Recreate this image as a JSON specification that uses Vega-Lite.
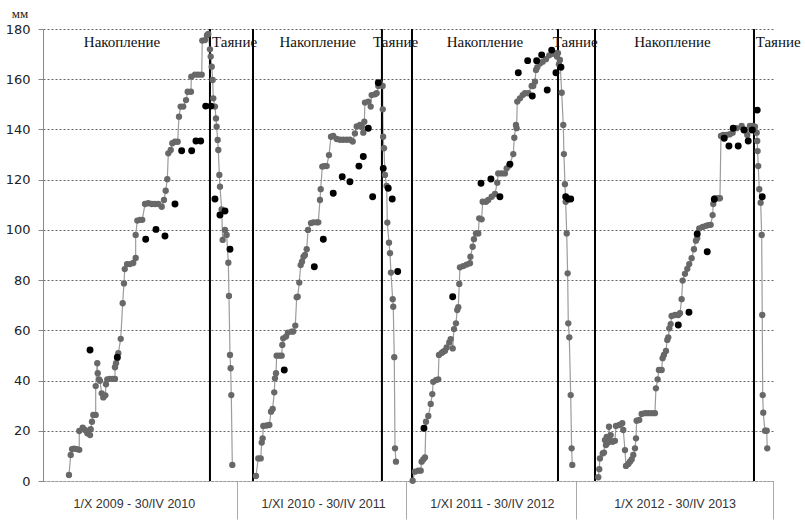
{
  "$schema": "https://vega.github.io/schema/vega-lite/v6.json",
  "width": 730,
  "height": 452,
  "autosize": {"type": "none"},
  "padding": {"left": 43, "top": 29, "right": 32, "bottom": 42},
  "background": "white",
  "config": {"view": {"stroke": null}},
  "datasets": {
    "model": [
      {"d":28,"mm":2.4,"s":1},{"d":29.9,"mm":10.4,"s":1},{"d":31.3,"mm":12.7,"s":1},{"d":33.4,"mm":12.9,"s":1},{"d":36.3,"mm":12.7,"s":1},{"d":39.1,"mm":12.4,"s":1},{"d":39.1,"mm":19.9,"s":1},{"d":42.8,"mm":21.2,"s":1},{"d":45.3,"mm":20.3,"s":1},{"d":47.8,"mm":19,"s":1},{"d":50.7,"mm":18.3,"s":1},{"d":51.4,"mm":20.6,"s":1},{"d":52.8,"mm":23.6,"s":1},{"d":54.2,"mm":26.3,"s":1},{"d":56.8,"mm":26.3,"s":1},{"d":56.8,"mm":37.8,"s":1},{"d":58.5,"mm":46.9,"s":1},{"d":59,"mm":42.9,"s":1},{"d":60.4,"mm":40.5,"s":1},{"d":61.4,"mm":39.9,"s":1},{"d":63.3,"mm":34.9,"s":1},{"d":65,"mm":33.3,"s":1},{"d":67.2,"mm":34.1,"s":1},{"d":67.9,"mm":38.5,"s":1},{"d":69.3,"mm":40.5,"s":1},{"d":72.2,"mm":40.7,"s":1},{"d":75.1,"mm":40.7,"s":1},{"d":77.6,"mm":40.7,"s":1},{"d":77.6,"mm":45.3,"s":1},{"d":78.7,"mm":46.9,"s":1},{"d":80.1,"mm":48.9,"s":1},{"d":81.2,"mm":50.9,"s":1},{"d":83.8,"mm":56.6,"s":1},{"d":85.9,"mm":70.8,"s":1},{"d":87.3,"mm":78.7,"s":1},{"d":88.1,"mm":84.4,"s":1},{"d":90.6,"mm":86.4,"s":1},{"d":93.8,"mm":86.4,"s":1},{"d":97.3,"mm":86.8,"s":1},{"d":99.9,"mm":88.8,"s":1},{"d":99.9,"mm":98,"s":1},{"d":101.7,"mm":103.7,"s":1},{"d":104.6,"mm":104,"s":1},{"d":107,"mm":104,"s":1},{"d":110,"mm":110.3,"s":1},{"d":113.5,"mm":110.6,"s":1},{"d":117.2,"mm":110.3,"s":1},{"d":120.7,"mm":110.3,"s":1},{"d":124.3,"mm":110.3,"s":1},{"d":128,"mm":109.2,"s":1},{"d":130.4,"mm":111.9,"s":1},{"d":132.3,"mm":115.6,"s":1},{"d":134,"mm":120.2,"s":1},{"d":135.1,"mm":130.5,"s":1},{"d":137.7,"mm":131.8,"s":1},{"d":139.4,"mm":134.5,"s":1},{"d":142.3,"mm":135.1,"s":1},{"d":145.2,"mm":135.1,"s":1},{"d":146.6,"mm":145.1,"s":1},{"d":148.4,"mm":149.1,"s":1},{"d":151.2,"mm":149.1,"s":1},{"d":154.2,"mm":151.7,"s":1},{"d":156,"mm":155,"s":1},{"d":159.5,"mm":155,"s":1},{"d":159.9,"mm":161,"s":1},{"d":163.9,"mm":161.8,"s":1},{"d":167.4,"mm":161.8,"s":1},{"d":171.1,"mm":161.8,"s":1},{"d":171.7,"mm":175.4,"s":1},{"d":174.6,"mm":175.6,"s":1},{"d":176.8,"mm":177.5,"s":1},{"d":178.2,"mm":178,"s":1},{"d":180,"mm":171.9,"s":1},{"d":180.8,"mm":169,"s":1},{"d":181.9,"mm":165,"s":1},{"d":182.9,"mm":159.7,"s":1},{"d":183.6,"mm":152.4,"s":1},{"d":185.4,"mm":149.1,"s":1},{"d":186.5,"mm":144.4,"s":1},{"d":187.2,"mm":141.1,"s":1},{"d":188.3,"mm":135.8,"s":1},{"d":189,"mm":131.8,"s":1},{"d":190.1,"mm":121.9,"s":1},{"d":190.8,"mm":117.2,"s":1},{"d":192.6,"mm":108.2,"s":1},{"d":193.7,"mm":96,"s":1},{"d":196.2,"mm":100,"s":1},{"d":198,"mm":98,"s":1},{"d":199.8,"mm":86.9,"s":1},{"d":200.5,"mm":73.7,"s":1},{"d":201.6,"mm":50.2,"s":1},{"d":202.3,"mm":44.9,"s":1},{"d":203,"mm":34.2,"s":1},{"d":204.1,"mm":6.4,"s":1},
      {"d":229.6,"mm":2,"s":2},{"d":232.1,"mm":9,"s":2},{"d":234.7,"mm":9,"s":2},{"d":235.8,"mm":15.3,"s":2},{"d":236.8,"mm":17,"s":2},{"d":237.5,"mm":21.9,"s":2},{"d":241.1,"mm":22.1,"s":2},{"d":244,"mm":22.3,"s":2},{"d":245.8,"mm":27.6,"s":2},{"d":247.6,"mm":28.7,"s":2},{"d":249.3,"mm":35.3,"s":2},{"d":250.1,"mm":40.9,"s":2},{"d":251.2,"mm":42.9,"s":2},{"d":251.9,"mm":49.9,"s":2},{"d":254.7,"mm":49.9,"s":2},{"d":257.3,"mm":49.9,"s":2},{"d":258,"mm":54.2,"s":2},{"d":259,"mm":56.8,"s":2},{"d":262,"mm":57.5,"s":2},{"d":264.1,"mm":59.1,"s":2},{"d":268.1,"mm":59.5,"s":2},{"d":269.8,"mm":59.5,"s":2},{"d":272,"mm":61.9,"s":2},{"d":273.5,"mm":73.2,"s":2},{"d":274.6,"mm":73.4,"s":2},{"d":276.3,"mm":79,"s":2},{"d":277.8,"mm":86,"s":2},{"d":279.2,"mm":87.3,"s":2},{"d":280.8,"mm":89.3,"s":2},{"d":282.4,"mm":90,"s":2},{"d":284.3,"mm":92.3,"s":2},{"d":285.7,"mm":100,"s":2},{"d":288.9,"mm":102.7,"s":2},{"d":291.4,"mm":103,"s":2},{"d":295,"mm":103,"s":2},{"d":296.8,"mm":103,"s":2},{"d":298.6,"mm":111.9,"s":2},{"d":299.4,"mm":116.2,"s":2},{"d":301.1,"mm":125.2,"s":2},{"d":303.2,"mm":125.4,"s":2},{"d":305.8,"mm":125.4,"s":2},{"d":308.3,"mm":129.8,"s":2},{"d":310.5,"mm":137.1,"s":2},{"d":312.9,"mm":137.4,"s":2},{"d":316.6,"mm":136.2,"s":2},{"d":320.2,"mm":135.9,"s":2},{"d":323.7,"mm":135.9,"s":2},{"d":327.4,"mm":135.9,"s":2},{"d":330.9,"mm":135.9,"s":2},{"d":333.9,"mm":135.2,"s":2},{"d":336.3,"mm":138.4,"s":2},{"d":338.2,"mm":141.2,"s":2},{"d":341.7,"mm":141.8,"s":2},{"d":343.6,"mm":141.1,"s":2},{"d":345.3,"mm":138.7,"s":2},{"d":346.4,"mm":143.1,"s":2},{"d":347.1,"mm":150.7,"s":2},{"d":350.7,"mm":151.1,"s":2},{"d":353.3,"mm":149.1,"s":2},{"d":354.3,"mm":153.7,"s":2},{"d":357.9,"mm":154,"s":2},{"d":359.7,"mm":154.4,"s":2},{"d":361.5,"mm":157.3,"s":2},{"d":363.3,"mm":158.4,"s":2},{"d":366.2,"mm":157.3,"s":2},{"d":366.3,"mm":148,"s":2},{"d":366.7,"mm":137.1,"s":2},{"d":367.6,"mm":132.5,"s":2},{"d":368.7,"mm":121.9,"s":2},{"d":370.5,"mm":117.5,"s":2},{"d":371.2,"mm":102.9,"s":2},{"d":373,"mm":94.9,"s":2},{"d":374.1,"mm":90.7,"s":2},{"d":375.1,"mm":83,"s":2},{"d":377,"mm":72.4,"s":2},{"d":377.6,"mm":69.4,"s":2},{"d":378.7,"mm":49.3,"s":2},{"d":379.5,"mm":13,"s":2},{"d":380.5,"mm":7.7,"s":2},
      {"d":398.5,"mm":0.1,"s":3},{"d":401,"mm":3.7,"s":3},{"d":404.6,"mm":4.1,"s":3},{"d":407.2,"mm":4.1,"s":3},{"d":408.2,"mm":7.7,"s":3},{"d":410,"mm":8.6,"s":3},{"d":411.8,"mm":9.4,"s":3},{"d":412.9,"mm":23.6,"s":3},{"d":415.4,"mm":25.9,"s":3},{"d":418,"mm":30.7,"s":3},{"d":419.7,"mm":34.6,"s":3},{"d":420.7,"mm":39.5,"s":3},{"d":423.7,"mm":40.2,"s":3},{"d":426.1,"mm":40.5,"s":3},{"d":426.9,"mm":50.2,"s":3},{"d":429.8,"mm":51,"s":3},{"d":431.5,"mm":51.5,"s":3},{"d":433.4,"mm":51.9,"s":3},{"d":435.2,"mm":53.2,"s":3},{"d":438,"mm":55.2,"s":3},{"d":439.5,"mm":56.5,"s":3},{"d":441.7,"mm":52.8,"s":3},{"d":443.1,"mm":60.5,"s":3},{"d":445.2,"mm":62.8,"s":3},{"d":446.6,"mm":68.1,"s":3},{"d":447.7,"mm":69.2,"s":3},{"d":448.8,"mm":78.5,"s":3},{"d":449.5,"mm":85.1,"s":3},{"d":453.1,"mm":85.6,"s":3},{"d":456.7,"mm":86.2,"s":3},{"d":460.3,"mm":86.7,"s":3},{"d":460.8,"mm":89.3,"s":3},{"d":463.2,"mm":93.3,"s":3},{"d":464.6,"mm":96.3,"s":3},{"d":466.8,"mm":98.6,"s":3},{"d":469.3,"mm":98.6,"s":3},{"d":470.3,"mm":104.6,"s":3},{"d":472.9,"mm":104.2,"s":3},{"d":474,"mm":111.2,"s":3},{"d":477.6,"mm":111.2,"s":3},{"d":480,"mm":111.9,"s":3},{"d":483.7,"mm":113.2,"s":3},{"d":487.3,"mm":114.3,"s":3},{"d":489.7,"mm":118.8,"s":3},{"d":490.8,"mm":122.5,"s":3},{"d":494.5,"mm":122.5,"s":3},{"d":498,"mm":122.5,"s":3},{"d":499.9,"mm":124.5,"s":3},{"d":502.7,"mm":125.6,"s":3},{"d":507,"mm":130.2,"s":3},{"d":508.1,"mm":136.7,"s":3},{"d":509.9,"mm":141.8,"s":3},{"d":510.6,"mm":140.5,"s":3},{"d":511.3,"mm":151.1,"s":3},{"d":514.2,"mm":152.4,"s":3},{"d":517.1,"mm":153.7,"s":3},{"d":519.6,"mm":154.4,"s":3},{"d":523.2,"mm":154.4,"s":3},{"d":526.8,"mm":157.3,"s":3},{"d":528.5,"mm":157.3,"s":3},{"d":530.4,"mm":159,"s":3},{"d":531.5,"mm":163.7,"s":3},{"d":532.9,"mm":164.8,"s":3},{"d":535.8,"mm":166.3,"s":3},{"d":538.7,"mm":167,"s":3},{"d":542.2,"mm":168,"s":3},{"d":545.8,"mm":169.5,"s":3},{"d":549.5,"mm":170.1,"s":3},{"d":553,"mm":170.4,"s":3},{"d":554.1,"mm":169,"s":3},{"d":555.2,"mm":170.4,"s":3},{"d":556.2,"mm":166,"s":3},{"d":557.3,"mm":167.7,"s":3},{"d":559.2,"mm":154.6,"s":3},{"d":560.9,"mm":141.8,"s":3},{"d":561.6,"mm":130.2,"s":3},{"d":562.7,"mm":118.2,"s":3},{"d":563.5,"mm":111.2,"s":3},{"d":564.6,"mm":98.6,"s":3},{"d":565.6,"mm":82.7,"s":3},{"d":566.3,"mm":62.8,"s":3},{"d":567.4,"mm":57.2,"s":3},{"d":568.9,"mm":34.2,"s":3},{"d":569.9,"mm":13,"s":3},{"d":570.6,"mm":6.4,"s":3},
      {"d":598.6,"mm":1.5,"s":4},{"d":599.7,"mm":4.7,"s":4},{"d":600.4,"mm":9,"s":4},{"d":603.4,"mm":11,"s":4},{"d":604.8,"mm":11.3,"s":4},{"d":605.8,"mm":16.3,"s":4},{"d":606.9,"mm":14.3,"s":4},{"d":607.7,"mm":17.6,"s":4},{"d":609.4,"mm":15.3,"s":4},{"d":610.2,"mm":21.6,"s":4},{"d":611.2,"mm":16.3,"s":4},{"d":612,"mm":18.3,"s":4},{"d":614.1,"mm":15.6,"s":4},{"d":616.6,"mm":16,"s":4},{"d":617.7,"mm":21.9,"s":4},{"d":621.3,"mm":22.3,"s":4},{"d":624.5,"mm":23,"s":4},{"d":625.6,"mm":20.3,"s":4},{"d":627.4,"mm":12.3,"s":4},{"d":628.5,"mm":6,"s":4},{"d":631,"mm":6.8,"s":4},{"d":632.8,"mm":7.7,"s":4},{"d":634.6,"mm":8.6,"s":4},{"d":636.4,"mm":10.4,"s":4},{"d":638.2,"mm":13,"s":4},{"d":639.3,"mm":17,"s":4},{"d":640,"mm":24,"s":4},{"d":642.8,"mm":24.3,"s":4},{"d":645.4,"mm":26.7,"s":4},{"d":649,"mm":27,"s":4},{"d":652.5,"mm":27,"s":4},{"d":656.2,"mm":27,"s":4},{"d":659.7,"mm":27,"s":4},{"d":660.8,"mm":36.9,"s":4},{"d":662.6,"mm":40.5,"s":4},{"d":664,"mm":44.2,"s":4},{"d":667,"mm":44.2,"s":4},{"d":668,"mm":48.9,"s":4},{"d":669.4,"mm":50.2,"s":4},{"d":671.6,"mm":51.8,"s":4},{"d":673,"mm":56.2,"s":4},{"d":674.1,"mm":57.2,"s":4},{"d":675.2,"mm":60.8,"s":4},{"d":676.7,"mm":62.5,"s":4},{"d":677.7,"mm":65.7,"s":4},{"d":681.3,"mm":66.1,"s":4},{"d":684.9,"mm":66.1,"s":4},{"d":686.7,"mm":66.8,"s":4},{"d":688.5,"mm":72.4,"s":4},{"d":689.6,"mm":79.8,"s":4},{"d":692.1,"mm":82.5,"s":4},{"d":694.6,"mm":84.5,"s":4},{"d":696.7,"mm":86.4,"s":4},{"d":699.3,"mm":88.7,"s":4},{"d":701.8,"mm":92.3,"s":4},{"d":703.9,"mm":95.7,"s":4},{"d":705.3,"mm":96.7,"s":4},{"d":707.5,"mm":100.6,"s":4},{"d":711.2,"mm":101.2,"s":4},{"d":714.7,"mm":101.6,"s":4},{"d":717.2,"mm":101.9,"s":4},{"d":719.8,"mm":102,"s":4},{"d":721.9,"mm":105.9,"s":4},{"d":722.6,"mm":110.3,"s":4},{"d":724.4,"mm":112.6,"s":4},{"d":728,"mm":112.6,"s":4},{"d":729.8,"mm":112.6,"s":4},{"d":730.9,"mm":137.4,"s":4},{"d":733.4,"mm":137.8,"s":4},{"d":737,"mm":137.8,"s":4},{"d":740.6,"mm":138.1,"s":4},{"d":743.5,"mm":138.7,"s":4},{"d":747.8,"mm":140.5,"s":4},{"d":753.2,"mm":141.4,"s":4},{"d":756.8,"mm":139.8,"s":4},{"d":759.3,"mm":137.8,"s":4},{"d":762.1,"mm":141.4,"s":4},{"d":765.1,"mm":141.4,"s":4},{"d":767.5,"mm":141.1,"s":4},{"d":769.4,"mm":138.7,"s":4},{"d":770,"mm":135.4,"s":4},{"d":770.4,"mm":131.4,"s":4},{"d":771.1,"mm":125.4,"s":4},{"d":772.2,"mm":116.2,"s":4},{"d":773.7,"mm":110.8,"s":4},{"d":774.8,"mm":98,"s":4},{"d":775.4,"mm":66.1,"s":4},{"d":775.9,"mm":34.2,"s":4},{"d":776.5,"mm":27.2,"s":4},{"d":778.3,"mm":20,"s":4},{"d":780.2,"mm":20,"s":4},{"d":780.8,"mm":13,"s":4}
    ],
    "obs": [
      {"d":50.7,"mm":52.2},{"d":80.1,"mm":49.3},{"d":110.7,"mm":96.3},{"d":121.8,"mm":100.2},{"d":131.5,"mm":97.6},{"d":142.3,"mm":110.3},{"d":149.5,"mm":131.5},{"d":160.3,"mm":131.5},{"d":164.9,"mm":135.4},{"d":170,"mm":135.4},{"d":175.4,"mm":149.3},{"d":181.1,"mm":149.3},{"d":185.4,"mm":112.3},{"d":190.8,"mm":105.9},{"d":196.2,"mm":107.5},{"d":201.6,"mm":92.3},
      {"d":260.1,"mm":44.2},{"d":292.5,"mm":85.3},{"d":302.2,"mm":96.3},{"d":312.9,"mm":114.6},{"d":322.6,"mm":121.2},{"d":330.9,"mm":119.2},{"d":340.6,"mm":125.4},{"d":345.3,"mm":129.2},{"d":350.7,"mm":140.5},{"d":355.4,"mm":113.2},{"d":361.5,"mm":158.6},{"d":366.8,"mm":124.5},{"d":372.2,"mm":116.6},{"d":376.5,"mm":112.3},{"d":382.4,"mm":83.4},
      {"d":410.7,"mm":21},{"d":441.7,"mm":73.4},{"d":472.2,"mm":118.6},{"d":482.9,"mm":120.3},{"d":492.6,"mm":113.2},{"d":503.4,"mm":126.2},{"d":512.4,"mm":162.6},{"d":522.5,"mm":167.4},{"d":527.5,"mm":153.3},{"d":532.2,"mm":167.4},{"d":537.6,"mm":169.7},{"d":543.6,"mm":155.7},{"d":548.4,"mm":171.6},{"d":553,"mm":162.6},{"d":558.4,"mm":164.8},{"d":563.5,"mm":113.2},{"d":566.3,"mm":112.3},{"d":568.9,"mm":112.3},
      {"d":684.9,"mm":62.1},{"d":696.4,"mm":67.2},{"d":705.3,"mm":98.4},{"d":716.1,"mm":91.3},{"d":723.7,"mm":112.2},{"d":734.4,"mm":136.5},{"d":739.5,"mm":133.4},{"d":744.1,"mm":140.5},{"d":749.5,"mm":133.4},{"d":755.7,"mm":139.8},{"d":760.3,"mm":135.4},{"d":764.6,"mm":139.8},{"d":770,"mm":147.7},{"d":775.4,"mm":113.2}
    ],
    "phases": [
      {"d":180.0},{"d":226.4},{"d":365.4},{"d":397.8},{"d":555.2},{"d":595.1},{"d":766.5}
    ],
    "labels": [
      {"d":85.2,"mm":175,"t":"Накопление","k":"acc"},
      {"d":296.1,"mm":175,"t":"Накопление","k":"acc"},
      {"d":476.5,"mm":175,"t":"Накопление","k":"acc"},
      {"d":678.6,"mm":175,"t":"Накопление","k":"acc"},
      {"d":182.2,"mm":175,"t":"Таяние","k":"melt"},
      {"d":355.8,"mm":175,"t":"Таяние","k":"melt"},
      {"d":549.5,"mm":175,"t":"Таяние","k":"melt"},
      {"d":768.3,"mm":175,"t":"Таяние","k":"melt"}
    ]
  },
  "layer": [
    {
      "data": {"name": "model"},
      "mark": {"type": "line", "color": "#9c9c9c", "strokeWidth": 1.2},
      "encoding": {
        "x": {
          "field": "d", "type": "quantitative",
          "scale": {"domain": [0, 787], "nice": false, "zero": false},
          "axis": {
            "values": [98, 209, 302, 391, 484, 575, 681, 787],
            "title": null,
            "grid": false,
            "domainColor": "#9a9a9a",
            "domainDash": [3, 1],
            "domainWidth": 1.2,
            "tickColor": "#aaaaaa",
            "tickSize": 38,
            "tickOpacity": {"condition": {"test": "datum.value == 209 || datum.value == 391 || datum.value == 575 || datum.value == 787", "value": 1}, "value": 0},
            "labelExpr": "datum.value == 98 ? '1/X 2009 - 30/IV 2010' : datum.value == 302 ? '1/XI 2010 - 30/IV 2011' : datum.value == 484 ? '1/XI 2011 - 30/IV 2012' : datum.value == 681 ? '1/X 2012 - 30/IV 2013' : ''",
            "labelPadding": -16,
            "labelBaseline": "middle",
            "labelFont": "Liberation Sans",
            "labelFontSize": 12.5,
            "labelColor": "#333333",
            "labelOverlap": false,
            "labelBound": false,
            "labelFlush": false
          }
        },
        "y": {
          "field": "mm", "type": "quantitative",
          "scale": {"domain": [0, 180], "nice": false},
          "axis": {
            "values": [0, 20, 40, 60, 80, 100, 120, 140, 160, 180],
            "title": "мм",
            "titleAngle": 0,
            "titleX": -23.5,
            "titleY": -15.5,
            "titleAlign": "center",
            "titleBaseline": "middle",
            "titleFont": "Liberation Serif",
            "titleFontSize": 13,
            "titleFontWeight": "normal",
            "titleColor": "#222222",
            "labelFont": "DejaVu Sans",
            "labelFontSize": 13,
            "labelColor": "#222222",
            "labelPadding": 8,
            "tickSize": 5,
            "tickColor": "#888888",
            "domainColor": "#888888",
            "grid": true,
            "gridDash": [2, 2],
            "gridColor": "#666666",
            "gridWidth": 1
          }
        },
        "detail": {"field": "s", "type": "nominal"},
        "order": {"field": "d", "type": "quantitative"}
      }
    },
    {
      "data": {"name": "phases"},
      "mark": {"type": "rule", "color": "#000000", "strokeWidth": 2},
      "encoding": {
        "x": {"field": "d", "type": "quantitative"}
      }
    },
    {
      "data": {"name": "model"},
      "mark": {"type": "point", "filled": true, "color": "#686868", "opacity": 1, "size": 40},
      "encoding": {
        "x": {"field": "d", "type": "quantitative"},
        "y": {"field": "mm", "type": "quantitative"}
      }
    },
    {
      "data": {"name": "obs"},
      "mark": {"type": "point", "filled": true, "color": "#000000", "opacity": 1, "size": 48},
      "encoding": {
        "x": {"field": "d", "type": "quantitative"},
        "y": {"field": "mm", "type": "quantitative"}
      }
    },
    {
      "data": {"name": "labels"},
      "transform": [{"filter": "datum.k == 'acc'"}],
      "mark": {"type": "text", "align": "center", "baseline": "middle", "font": "Liberation Serif", "fontSize": 15, "color": "#111111"},
      "encoding": {
        "x": {"field": "d", "type": "quantitative"},
        "y": {"field": "mm", "type": "quantitative"},
        "text": {"field": "t"}
      }
    },
    {
      "data": {"name": "labels"},
      "transform": [{"filter": "datum.k == 'melt'"}],
      "mark": {"type": "text", "align": "left", "baseline": "middle", "font": "Liberation Serif", "fontSize": 15, "color": "#111111"},
      "encoding": {
        "x": {"field": "d", "type": "quantitative"},
        "y": {"field": "mm", "type": "quantitative"},
        "text": {"field": "t"}
      }
    }
  ]
}
